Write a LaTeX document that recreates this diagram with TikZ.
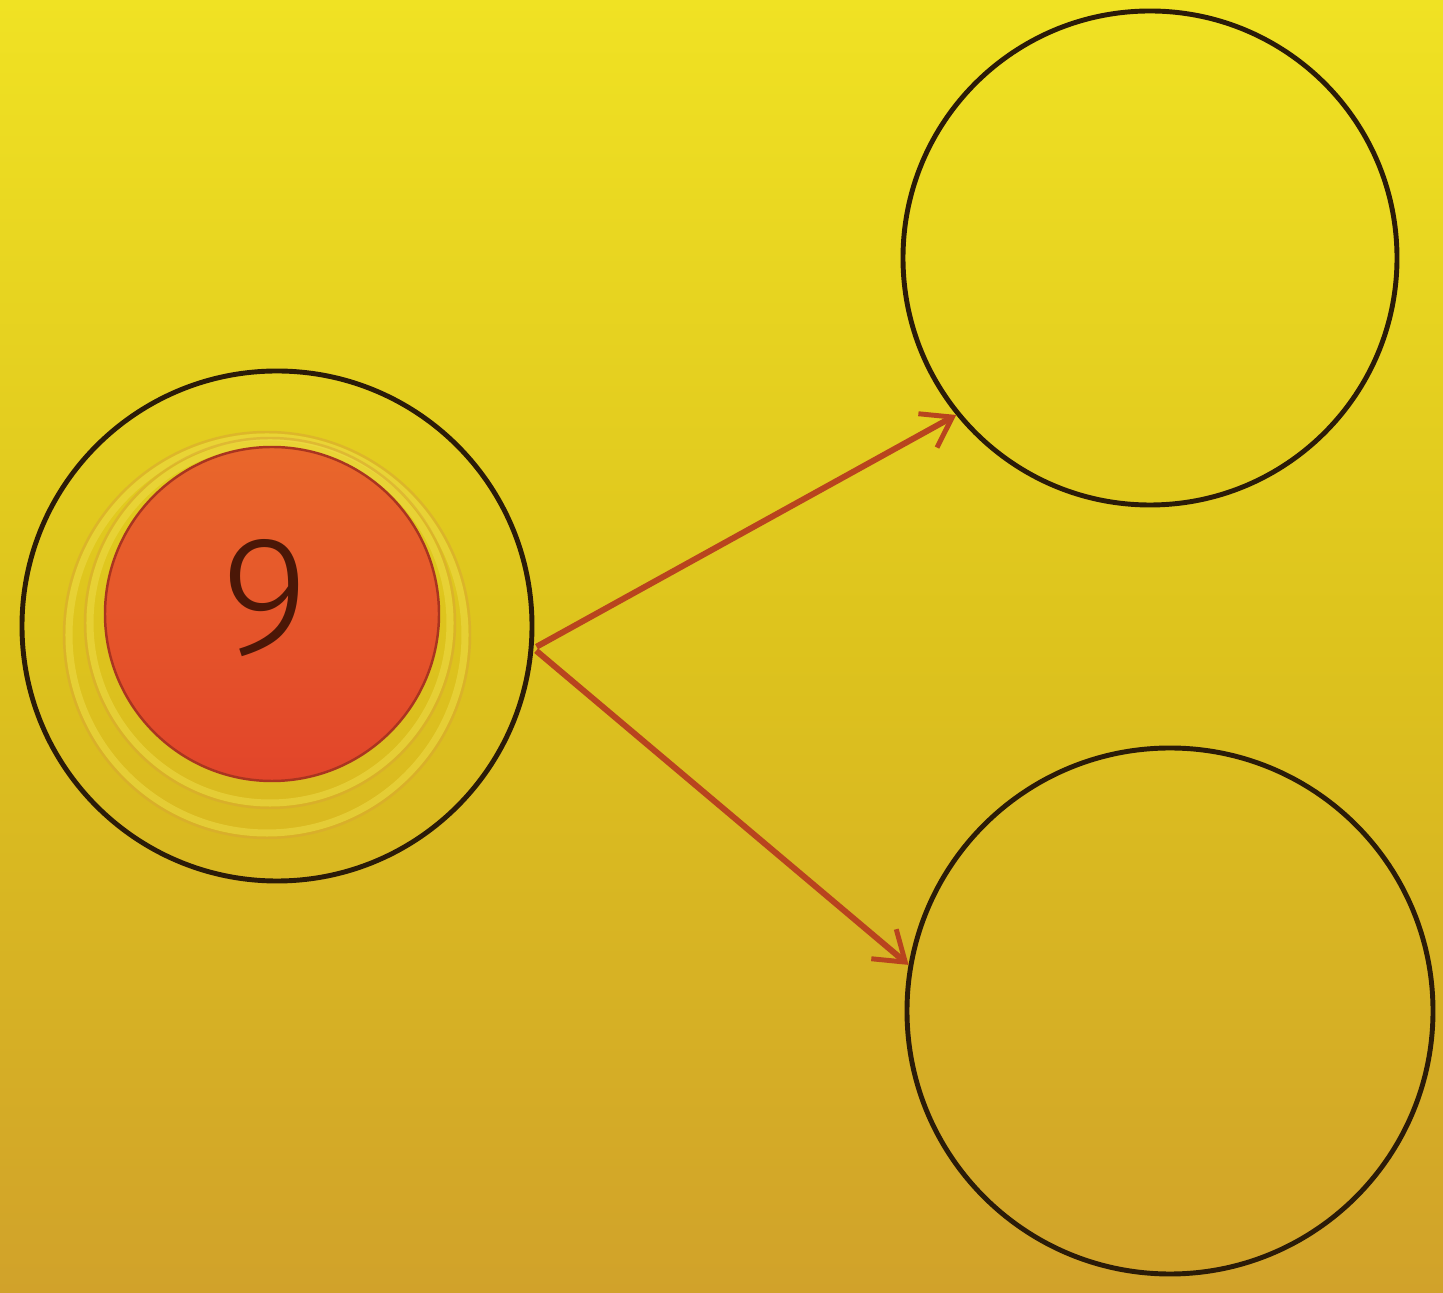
\documentclass[tikz,border=0pt]{standalone}
\usepackage{xcolor}
\usepackage{tikz}
\usepackage{fontspec}
\usetikzlibrary{arrows.meta, positioning, shapes.geometric}
\setsansfont{Fira Sans Light}
\definecolor{bgtop}{HTML}{F0E223}
\definecolor{bgmid}{HTML}{DDC31D}
\definecolor{bgbot}{HTML}{D1A22A}
\definecolor{ringdark}{HTML}{2B1B08}
\definecolor{corered}{HTML}{E2452A}
\definecolor{coreorange}{HTML}{E9672B}
\definecolor{arroworange}{HTML}{B8441E}
\definecolor{halo}{HTML}{EEDB48}
\definecolor{haloedge}{HTML}{D9A832}

\begin{document}
\begin{tikzpicture}[
    slot/.style={circle, draw=ringdark, line width=1.4pt, inner sep=0pt, minimum size=#1},
    core/.style={circle, inner sep=0pt, minimum size=3.34cm, top color=coreorange,
                 bottom color=corered, draw=corered!75!black, line width=0.7pt},
    glow/.style={draw=halo, line width=2pt, opacity=0.55},
    glowedge/.style={draw=haloedge, line width=0.7pt, opacity=0.6},
    push/.style={-{Straight Barb[length=8pt, width=11pt, line width=1.4pt]},
                 line width=1.7pt, draw=arroworange, shorten <=1pt},
]
    % background
    \shade[top color=bgtop, bottom color=bgbot, middle color=bgmid]
        (0, 0) rectangle (14.43, 12.93);
    \useasboundingbox (0, 0) rectangle (14.43, 12.93);

    % === source ===
    \node[slot=5.10cm] (src) at (2.77, 6.67) {};
    \draw[glow] (2.67, 6.58) circle (1.98);
    \draw[glowedge] (2.67, 6.58) circle (2.03);
    \draw[glow] (2.70, 6.70) circle (1.80);
    \draw[glowedge] (2.70, 6.70) circle (1.85);
    \node[core] (nine) at (2.72, 6.79) {};
    \node[font=\sffamily\fontsize{48}{48}\selectfont, text=ringdark!85!red]
        at (2.65, 6.95) {9};

    % === targets ===
    \node[slot=4.94cm] (up) at (11.50, 10.35) {};
    \node[slot=5.26cm] (down) at (11.70, 2.82) {};

    % === arrows ===
    \draw[push] (src.-5) -- (up.219);
    \draw[push] (src.-5) -- (down.170);
\end{tikzpicture}
\end{document}
